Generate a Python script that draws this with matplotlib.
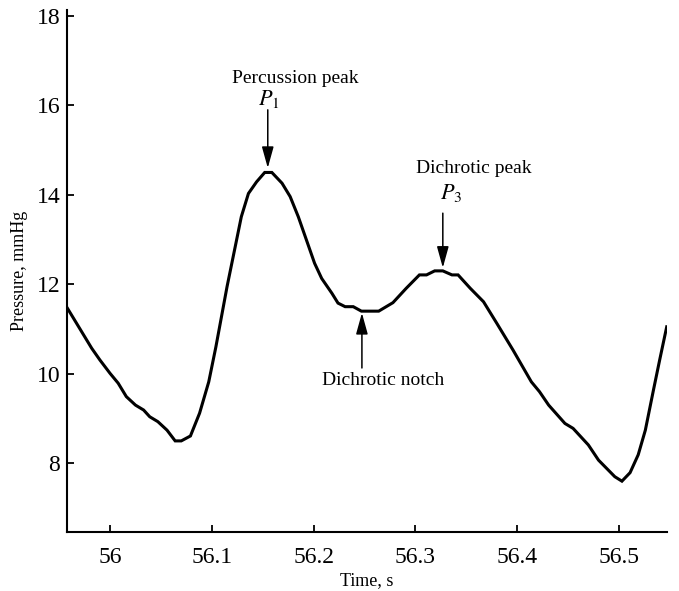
import numpy as np
import matplotlib
matplotlib.use('Agg')
import matplotlib.pyplot as plt

plt.rcParams['font.family'] = ['Liberation Serif', 'DejaVu Serif']
plt.rcParams['mathtext.fontset'] = 'stix'

#%% data
time_s = [55.958, 55.982, 55.990, 56.000, 56.008, 56.016, 56.025, 56.033, 56.039, 56.047,
          56.056, 56.064, 56.070, 56.079, 56.088, 56.097, 56.104, 56.115, 56.123, 56.129,
          56.136, 56.144, 56.152, 56.159, 56.169, 56.177, 56.185, 56.193, 56.201, 56.208,
          56.218, 56.224, 56.231, 56.239, 56.247, 56.264, 56.278, 56.291, 56.304, 56.311,
          56.319, 56.327, 56.336, 56.342, 56.354, 56.367, 56.380, 56.396, 56.414, 56.422,
          56.431, 56.447, 56.455, 56.470, 56.480, 56.496, 56.503, 56.511, 56.519, 56.526,
          56.534, 56.540, 56.547]
pressure = [11.47, 10.57, 10.31, 10.01, 9.79, 9.49, 9.30, 9.19, 9.04, 8.93,
            8.74, 8.50, 8.50, 8.61, 9.12, 9.82, 10.6, 11.95, 12.84, 13.51,
            14.03, 14.29, 14.5, 14.5, 14.26, 13.96, 13.51, 12.99, 12.47, 12.13,
            11.8, 11.58, 11.5, 11.5, 11.4, 11.4, 11.59, 11.91, 12.21, 12.21,
            12.3, 12.3, 12.21, 12.21, 11.91, 11.61, 11.13, 10.53, 9.82, 9.6,
            9.3, 8.89, 8.78, 8.41, 8.07, 7.7, 7.6, 7.79, 8.19, 8.74,
            9.64, 10.3, 11.05]
xticks = [56.0, 56.1, 56.2, 56.3, 56.4, 56.5]
xticklabels = ['56', '56.1', '56.2', '56.3', '56.4', '56.5']
yticks = [8, 10, 12, 14, 16, 18]

#%% plot
fig = plt.figure(figsize=(6.79, 5.91), dpi=100)
ax = fig.add_axes([0.0991, 0.1003, 0.8828, 0.8827])
ax.plot(time_s, pressure, color='black', lw=2.2, solid_joinstyle='miter')

ax.set_xlim(55.958, 56.547)
ax.set_ylim(6.47, 18.13)
ax.spines['top'].set_visible(False)
ax.spines['right'].set_visible(False)
for s in ['left', 'bottom']:
    ax.spines[s].set_linewidth(1.5)
ax.set_xticks(xticks)
ax.set_xticklabels(xticklabels)
ax.set_yticks(yticks)
ax.tick_params(direction='in', length=5, width=1.3, labelsize=17)
ax.tick_params(axis='x', pad=11)
ax.tick_params(axis='y', pad=5)
ax.set_xlabel('Time, s', fontsize=13, labelpad=3)
ax.set_ylabel('Pressure, mmHg', fontsize=13, labelpad=6)

arrow = dict(arrowstyle='-|>,head_length=1.3,head_width=0.36', color='black',
             lw=1.1, mutation_scale=10, shrinkA=0, shrinkB=0)
# percussion peak
ax.annotate('', xy=(56.155, 14.6), xytext=(56.155, 15.9), arrowprops=arrow)
ax.text(56.1825, 16.5, 'Percussion peak', ha='center', va='baseline', fontsize=14)
ax.text(56.156, 16.0, '$P_1$', ha='center', va='baseline', fontsize=16)
# dichrotic peak
ax.annotate('', xy=(56.327, 12.37), xytext=(56.327, 13.59), arrowprops=arrow)
ax.text(56.3576, 14.49, 'Dichrotic peak', ha='center', va='baseline', fontsize=14)
ax.text(56.335, 13.9, '$P_3$', ha='center', va='baseline', fontsize=16)
# dichrotic notch
ax.annotate('', xy=(56.2475, 11.36), xytext=(56.2475, 10.13), arrowprops=arrow)
ax.text(56.268, 9.75, 'Dichrotic notch', ha='center', va='baseline', fontsize=14)

fig.savefig('out.png', dpi=100)
